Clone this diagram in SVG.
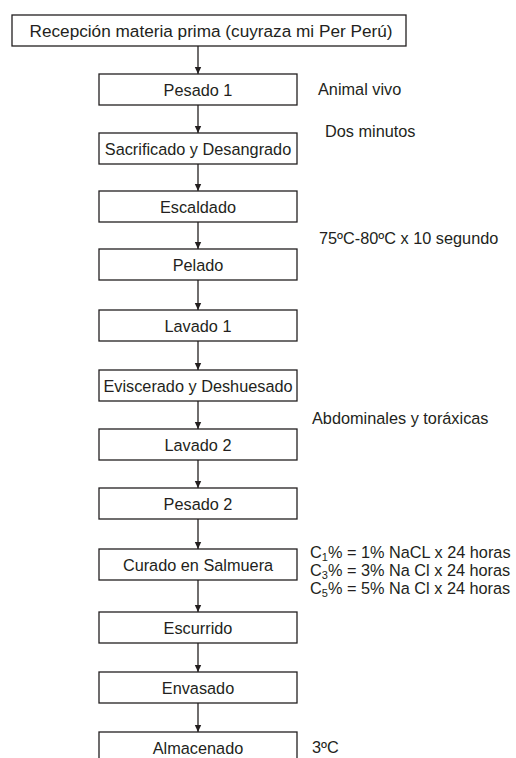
<svg xmlns="http://www.w3.org/2000/svg" width="516" height="758" viewBox="0 0 516 758">
<defs>
<marker id="ah" markerWidth="8" markerHeight="8" refX="7" refY="4" orient="auto" markerUnits="userSpaceOnUse">
<path d="M0,0.8 L7,4 L0,7.2 Z" fill="#231f20"/>
</marker>
<style>
rect.b{fill:#fff;stroke:#231f20;stroke-width:1.3}
text{font-family:"Liberation Sans",Arial,sans-serif;font-size:16.3px;fill:#231f20}
text.c{text-anchor:middle}
line.e{stroke:#231f20;stroke-width:1.3;marker-end:url(#ah)}
</style>
</defs>
<rect width="516" height="758" fill="#fff"/>
<g id="connectors">
<line class="e" x1="198" y1="46" x2="198" y2="74"/>
<line class="e" x1="198" y1="105" x2="198" y2="133"/>
<line class="e" x1="198" y1="164" x2="198" y2="191"/>
<line class="e" x1="198" y1="222" x2="198" y2="249"/>
<line class="e" x1="198" y1="280" x2="198" y2="310"/>
<line class="e" x1="198" y1="341" x2="198" y2="370"/>
<line class="e" x1="198" y1="401" x2="198" y2="429"/>
<line class="e" x1="198" y1="460" x2="198" y2="488"/>
<line class="e" x1="198" y1="519" x2="198" y2="549"/>
<line class="e" x1="198" y1="580" x2="198" y2="612"/>
<line class="e" x1="198" y1="643" x2="198" y2="672"/>
<line class="e" x1="198" y1="703" x2="198" y2="732"/>
</g>
<g id="n0"><rect class="b" x="12" y="15" width="394" height="31"/><text class="c" x="211" y="36.8" style="font-size:17.2px">Recepción materia prima (cuyraza mi Per Perú)</text></g>
<g id="n1"><rect class="b" x="99" y="74" width="198" height="31"/><text class="c" x="198" y="95.5">Pesado 1</text></g>
<g id="n2"><rect class="b" x="99" y="133" width="198" height="31"/><text class="c" x="198" y="154.5">Sacrificado y Desangrado</text></g>
<g id="n3"><rect class="b" x="99" y="191" width="198" height="31"/><text class="c" x="198" y="212.5">Escaldado</text></g>
<g id="n4"><rect class="b" x="99" y="249" width="198" height="31"/><text class="c" x="198" y="270.5">Pelado</text></g>
<g id="n5"><rect class="b" x="99" y="310" width="198" height="31"/><text class="c" x="198" y="331.5">Lavado 1</text></g>
<g id="n6"><rect class="b" x="99" y="370" width="198" height="31"/><text class="c" x="198" y="391.5">Eviscerado y Deshuesado</text></g>
<g id="n7"><rect class="b" x="99" y="429" width="198" height="31"/><text class="c" x="198" y="450.5">Lavado 2</text></g>
<g id="n8"><rect class="b" x="99" y="488" width="198" height="31"/><text class="c" x="198" y="509.5">Pesado 2</text></g>
<g id="n9"><rect class="b" x="99" y="549" width="198" height="31"/><text class="c" x="198" y="570.5">Curado en Salmuera</text></g>
<g id="n10"><rect class="b" x="99" y="612" width="198" height="31"/><text class="c" x="198" y="633.5">Escurrido</text></g>
<g id="n11"><rect class="b" x="99" y="672" width="198" height="31"/><text class="c" x="198" y="693.5">Envasado</text></g>
<g id="n12"><rect class="b" x="99" y="732" width="198" height="31"/><text class="c" x="198" y="753.5">Almacenado</text></g>
<g id="notes">
<text x="318" y="95">Animal vivo</text>
<text x="325" y="137">Dos minutos</text>
<text x="319" y="244">75ºC-80ºC x 10 segundo</text>
<text x="312" y="424">Abdominales y toráxicas</text>
<text x="310" y="558">C<tspan font-size="11" dy="3">1</tspan><tspan dy="-3">% = 1% NaCL x 24 horas</tspan></text>
<text x="310" y="576">C<tspan font-size="11" dy="3">3</tspan><tspan dy="-3">% = 3% Na Cl x 24 horas</tspan></text>
<text x="310" y="594">C<tspan font-size="11" dy="3">5</tspan><tspan dy="-3">% = 5% Na Cl x 24 horas</tspan></text>
<text x="312" y="753">3ºC</text>
</g>
</svg>
